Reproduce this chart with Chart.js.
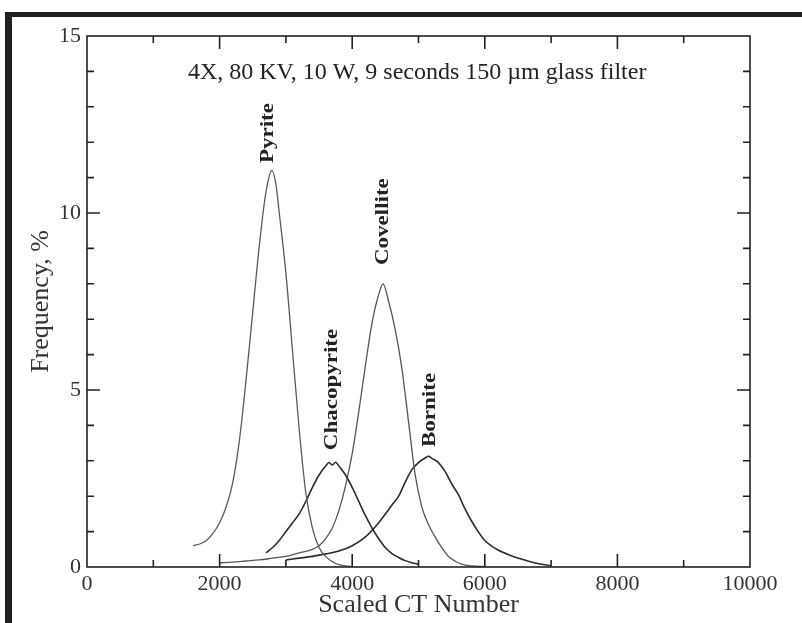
<!DOCTYPE html>
<html>
<head>
<meta charset="utf-8">
<script src="https://cdn.jsdelivr.net/npm/chart.js@4/dist/chart.umd.min.js"></script>
<style>
  html, body { margin: 0; padding: 0; background: #fff; }
  #wrap { position: relative; width: 802px; height: 623px; background: #fff; overflow: hidden; }
  #c { position: absolute; left: 0; top: 0; }
  #frame { position: absolute; left: 5px; top: 12px; width: 797px; height: 611px;
           border-top: 5px solid #231f20; border-left: 7px solid #231f20; box-sizing: border-box; pointer-events: none; }
</style>
</head>
<body>
<div id="wrap">
  <canvas id="c" width="802" height="623"></canvas>
  <div id="frame"></div>
</div>
<script>
// ---- data ----
const pyriteX = [1600,1700,1800,1900,2000,2100,2200,2300,2400,2500,2600,2700,2790,2850,2900,3000,3100,3200,3300,3400,3500,3600,3700,3800,3900,4000];
const pyriteY = [0.6,0.65,0.75,0.95,1.25,1.7,2.4,3.6,5.3,7.2,9.1,10.6,11.2,10.8,10.0,8.3,6.1,3.9,2.1,1.1,0.55,0.3,0.15,0.07,0.03,0.01];

const chacoX = [2700,2800,2900,3000,3100,3200,3300,3400,3500,3600,3650,3700,3750,3800,3900,4000,4100,4200,4300,4400,4500,4600,4700,4800,4900,5000];
const chacoY = [0.4,0.55,0.75,1.0,1.25,1.5,1.85,2.25,2.6,2.85,2.95,2.88,2.96,2.85,2.6,2.25,1.85,1.45,1.1,0.8,0.55,0.38,0.27,0.18,0.12,0.08];

const covX = [2000,2200,2400,2600,2800,3000,3200,3400,3500,3600,3700,3800,3900,4000,4100,4200,4300,4400,4465,4550,4650,4750,4850,4950,5050,5150,5250,5350,5450,5550,5650,5800,6000];
const covY = [0.12,0.14,0.17,0.2,0.25,0.3,0.4,0.5,0.6,0.8,1.1,1.6,2.3,3.2,4.4,5.7,6.9,7.7,8.0,7.5,6.7,5.6,4.1,2.6,1.7,1.2,0.85,0.55,0.3,0.17,0.08,0.03,0.01];

const bornX = [3000,3200,3400,3600,3800,4000,4200,4400,4600,4700,4800,4900,5000,5100,5150,5200,5300,5400,5500,5600,5700,5800,5900,6000,6200,6400,6600,6800,7000];
const bornY = [0.2,0.25,0.3,0.37,0.45,0.6,0.85,1.25,1.75,2.0,2.4,2.75,2.95,3.08,3.13,3.07,2.95,2.7,2.35,2.05,1.65,1.3,1.0,0.75,0.48,0.32,0.2,0.1,0.04];

const xTickLabels = [0, 2000, 4000, 6000, 8000, 10000];
const yTickLabels = [0, 5, 10, 15];

const peakNames = ["Pyrite", "Chacopyrite", "Covellite", "Bornite"];
const peakLabelX = [2730, 3695, 4465, 5173];
const peakLabelY = [11.41, 3.3, 8.53, 3.39];

const noteText = "4X, 80 KV, 10 W, 9 seconds 150 \u00B5m glass filter";
const noteX = 4980;
const noteY = 13.95;

const xTitle = "Scaled CT Number";
const yTitle = "Frequency, %";

// ---- build ----
const pts = (xs, ys) => xs.map((x, i) => ({ x: x, y: ys[i] }));
const serif = "'Liberation Serif', 'Times New Roman', serif";

const frameAndTicks = {
  id: 'frameAndTicks',
  afterDraw(chart) {
    const { ctx, chartArea: a, scales: { x, y } } = chart;
    ctx.save();
    ctx.strokeStyle = '#222';
    ctx.lineWidth = 1.6;
    ctx.strokeRect(a.left, a.top, a.right - a.left, a.bottom - a.top);
    ctx.beginPath();
    for (let v = 1000; v < 10000; v += 1000) {
      const px = x.getPixelForValue(v);
      const len = v % 2000 === 0 ? 13 : 7;
      ctx.moveTo(px, a.bottom); ctx.lineTo(px, a.bottom - len);
      ctx.moveTo(px, a.top); ctx.lineTo(px, a.top + len);
    }
    for (let v = 1; v < 15; v += 1) {
      const py = y.getPixelForValue(v);
      const len = v % 5 === 0 ? 13 : 7;
      ctx.moveTo(a.left, py); ctx.lineTo(a.left + len, py);
      ctx.moveTo(a.right, py); ctx.lineTo(a.right - len, py);
    }
    ctx.stroke();

    // note text
    ctx.fillStyle = '#222';
    ctx.font = "24px " + serif;
    ctx.textAlign = 'center';
    ctx.textBaseline = 'middle';
    ctx.fillText(noteText, x.getPixelForValue(noteX), y.getPixelForValue(noteY));

    // peak labels (rotated, slightly condensed like the reference)
    ctx.font = "bold 23px " + serif;
    ctx.textAlign = 'left';
    ctx.textBaseline = 'middle';
    for (let i = 0; i < peakNames.length; i++) {
      ctx.save();
      ctx.translate(x.getPixelForValue(peakLabelX[i]), y.getPixelForValue(peakLabelY[i]));
      ctx.rotate(-Math.PI / 2);
      ctx.scale(1, 0.82);
      ctx.fillText(peakNames[i], 0, 0);
      ctx.restore();
    }
    ctx.restore();
  }
};

const ds = (label, data, color, w) => ({
  label, data, borderColor: color, borderWidth: w, pointRadius: 0,
  showLine: true, fill: false, cubicInterpolationMode: 'monotone'
});

new Chart(document.getElementById('c'), {
  type: 'scatter',
  data: {
    datasets: [
      ds('Pyrite', pts(pyriteX, pyriteY), '#5a5a5a', 1.3),
      ds('Chacopyrite', pts(chacoX, chacoY), '#2b2b2b', 1.6),
      ds('Covellite', pts(covX, covY), '#555555', 1.3),
      ds('Bornite', pts(bornX, bornY), '#2b2b2b', 1.6)
    ]
  },
  options: {
    responsive: false,
    animation: false,
    events: [],
    layout: { padding: { left: 0, top: 36, right: 52, bottom: 0 } },
    plugins: { legend: { display: false }, tooltip: { enabled: false } },
    scales: {
      x: {
        type: 'linear', min: 0, max: 10000,
        afterBuildTicks: s => { s.ticks = xTickLabels.map(v => ({ value: v })); },
        afterFit: s => { s.height = 56; },
        grid: { display: false, drawTicks: false, tickLength: 0 }, border: { display: false },
        ticks: { color: '#333', font: { family: serif, size: 22 }, padding: 4, maxRotation: 0, autoSkip: false,
                 callback: v => String(v) },
        title: { display: true, text: xTitle, color: '#333', font: { family: serif, size: 26 }, padding: { top: 0, bottom: 2 } }
      },
      y: {
        type: 'linear', min: 0, max: 15,
        afterBuildTicks: s => { s.ticks = yTickLabels.map(v => ({ value: v })); },
        afterFit: s => { s.width = 87; },
        grid: { display: false, drawTicks: false, tickLength: 0 }, border: { display: false },
        ticks: { color: '#333', font: { family: serif, size: 22 }, padding: 6, autoSkip: false,
                 callback: v => String(v) },
        title: { display: true, text: yTitle, color: '#333', font: { family: serif, size: 26 }, padding: { top: 26, bottom: 0 } }
      }
    }
  },
  plugins: [frameAndTicks]
});
</script>
</body>
</html>
